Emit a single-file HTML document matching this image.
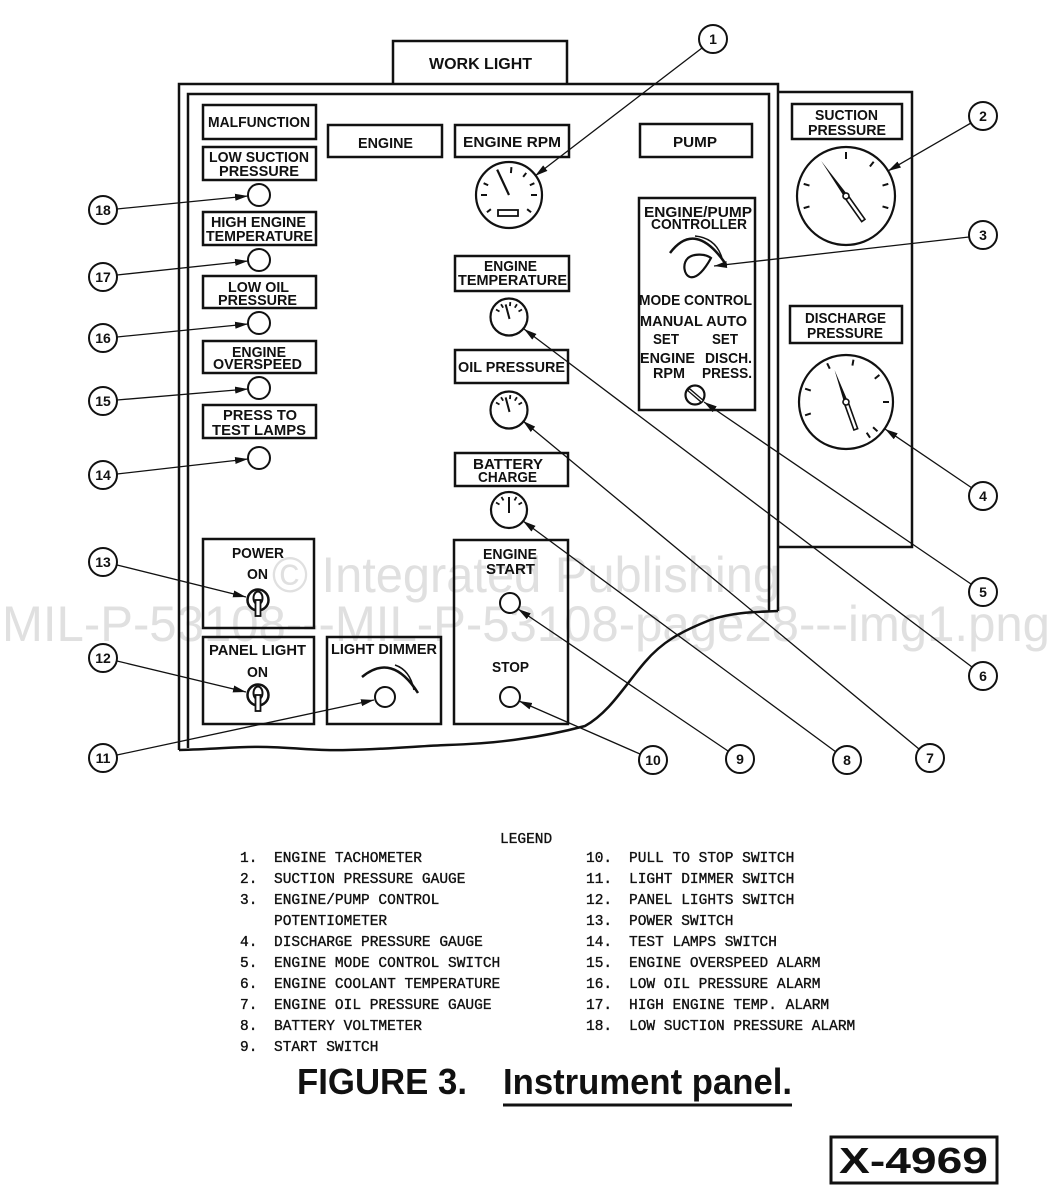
<!DOCTYPE html>
<html><head><meta charset="utf-8"><style>
html,body{margin:0;padding:0;background:#fff;}
svg{display:block;}
.b{fill:none;stroke:#111;stroke-width:2.5;}
.t{font-family:"Liberation Sans",sans-serif;font-weight:bold;font-size:15px;fill:#111;}
.big{font-family:"Liberation Sans",sans-serif;font-weight:bold;font-size:36px;fill:#111;}
.c{fill:#fff;stroke:#111;stroke-width:2;}
.cn{font-family:"Liberation Sans",sans-serif;font-weight:bold;font-size:14px;fill:#111;text-anchor:middle;}
.l{stroke:#111;stroke-width:1.3;fill:none;}
.m{font-family:"Liberation Mono",monospace;font-size:14.5px;fill:#111;stroke:#111;stroke-width:0.35;}
.w{font-family:"Liberation Sans",sans-serif;font-size:50px;fill:#e0e0e0;}
</style></head><body>
<svg width="1053" height="1201" viewBox="0 0 1053 1201" xmlns="http://www.w3.org/2000/svg">
<defs>
<marker id="a" markerWidth="14" markerHeight="8" refX="13" refY="4" orient="auto" markerUnits="userSpaceOnUse"><path d="M0,0.5 L13,4 L0,7.5 Z" fill="#111"/></marker>
</defs>
<rect width="1053" height="1201" fill="#fff"/>

<!-- watermark -->
<text class="w" x="272" y="592" textLength="508" lengthAdjust="spacingAndGlyphs">© Integrated Publishing</text>
<text class="w" x="2" y="641" textLength="1048" lengthAdjust="spacingAndGlyphs">MIL-P-53108---MIL-P-53108-page28---img1.png</text>

<!-- work light -->
<path class="b" d="M393,84 V41 H567 V84"/>
<text class="t" x="429" y="69" style="font-size:16px" textLength="103" lengthAdjust="spacingAndGlyphs">WORK LIGHT</text>

<!-- panel frame -->
<path class="b" d="M179,750 V84 H778 V611"/>
<path class="b" d="M188,748 V94 H769 V611"/>
<path class="b" d="M179,750 C220,749 240,746 267,747 C300,748 320,751 347,750 C390,749 420,746 447,745 C480,744 500,742 520,739 C550,735 570,730 585,726 C610,712 625,685 645,662 C662,642 680,632 710,620 C730,613 750,612 778,611"/>

<!-- right panel -->
<path class="b" d="M778,92 H912 V547 H778"/>

<!-- left column labels -->
<rect class="b" x="203" y="105" width="113" height="34"/>
<text class="t" x="208" y="127" textLength="102" lengthAdjust="spacingAndGlyphs">MALFUNCTION</text>
<rect class="b" x="203" y="147" width="113" height="33"/>
<text class="t" x="209" y="162" textLength="100" lengthAdjust="spacingAndGlyphs">LOW SUCTION</text>
<text class="t" x="219" y="176" textLength="80" lengthAdjust="spacingAndGlyphs">PRESSURE</text>
<rect class="b" x="203" y="212" width="113" height="33"/>
<text class="t" x="211" y="227" textLength="95" lengthAdjust="spacingAndGlyphs">HIGH ENGINE</text>
<text class="t" x="206" y="241" textLength="107" lengthAdjust="spacingAndGlyphs">TEMPERATURE</text>
<rect class="b" x="203" y="276" width="113" height="32"/>
<text class="t" x="228" y="292" textLength="61" lengthAdjust="spacingAndGlyphs">LOW OIL</text>
<text class="t" x="218" y="305" textLength="79" lengthAdjust="spacingAndGlyphs">PRESSURE</text>
<rect class="b" x="203" y="341" width="113" height="32"/>
<text class="t" x="232" y="357" textLength="54" lengthAdjust="spacingAndGlyphs">ENGINE</text>
<text class="t" x="213" y="369" textLength="89" lengthAdjust="spacingAndGlyphs">OVERSPEED</text>
<rect class="b" x="203" y="405" width="113" height="33"/>
<text class="t" x="223" y="420" textLength="74" lengthAdjust="spacingAndGlyphs">PRESS TO</text>
<text class="t" x="212" y="435" textLength="94" lengthAdjust="spacingAndGlyphs">TEST LAMPS</text>

<!-- lamps -->
<circle class="c" cx="259" cy="195" r="11"/>
<circle class="c" cx="259" cy="260" r="11"/>
<circle class="c" cx="259" cy="323" r="11"/>
<circle class="c" cx="259" cy="388" r="11"/>
<circle class="c" cx="259" cy="458" r="11"/>

<!-- power / panel light / dimmer -->
<rect class="b" x="203" y="539" width="111" height="89"/>
<text class="t" x="232" y="558" textLength="52" lengthAdjust="spacingAndGlyphs">POWER</text>
<text class="t" x="247" y="579" textLength="21" lengthAdjust="spacingAndGlyphs">ON</text>
<circle cx="258" cy="600" r="10.5" fill="#fff" stroke="#111" stroke-width="2.5"/>
<ellipse cx="258" cy="598" rx="4.5" ry="6.5" fill="none" stroke="#111" stroke-width="2"/>
<rect x="255.5" y="600" width="5" height="16" fill="#fff" stroke="#111" stroke-width="1.8"/>

<rect class="b" x="203" y="637" width="111" height="87"/>
<text class="t" x="209" y="655" textLength="97" lengthAdjust="spacingAndGlyphs">PANEL LIGHT</text>
<text class="t" x="247" y="677" textLength="21" lengthAdjust="spacingAndGlyphs">ON</text>
<circle cx="258" cy="695" r="10.5" fill="#fff" stroke="#111" stroke-width="2.5"/>
<ellipse cx="258" cy="693" rx="4.5" ry="6.5" fill="none" stroke="#111" stroke-width="2"/>
<rect x="255.5" y="695" width="5" height="16" fill="#fff" stroke="#111" stroke-width="1.8"/>

<rect class="b" x="327" y="637" width="114" height="87"/>
<text class="t" x="331" y="654" textLength="106" lengthAdjust="spacingAndGlyphs">LIGHT DIMMER</text>
<path d="M362,677 Q392,652 418,693" fill="none" stroke="#111" stroke-width="2.5"/>
<path d="M395,665 Q410,670 414,690" fill="none" stroke="#111" stroke-width="1.5"/>
<circle class="c" cx="385" cy="697" r="10"/>

<!-- center column -->
<rect class="b" x="328" y="125" width="114" height="32"/>
<text class="t" x="358" y="148" textLength="55" lengthAdjust="spacingAndGlyphs">ENGINE</text>
<rect class="b" x="455" y="125" width="114" height="32"/>
<text class="t" x="463" y="147" textLength="98" lengthAdjust="spacingAndGlyphs">ENGINE RPM</text>

<!-- tachometer -->
<circle cx="509" cy="195" r="33" fill="#fff" stroke="#111" stroke-width="2.2"/>
<g transform="translate(509,195)" stroke="#111" stroke-width="2">
<line x1="0" y1="-28" x2="0" y2="-22" transform="rotate(5)"/>
<line x1="0" y1="-28" x2="0" y2="-23" transform="rotate(38)"/>
<line x1="0" y1="-28" x2="0" y2="-23" transform="rotate(65)"/>
<line x1="0" y1="-28" x2="0" y2="-22" transform="rotate(90)"/>
<line x1="0" y1="-28" x2="0" y2="-23" transform="rotate(128)"/>
<line x1="0" y1="-28" x2="0" y2="-23" transform="rotate(-65)"/>
<line x1="0" y1="-28" x2="0" y2="-22" transform="rotate(-90)"/>
<line x1="0" y1="-28" x2="0" y2="-23" transform="rotate(-128)"/>
<line x1="0" y1="0" x2="0" y2="-28" transform="rotate(-25)" stroke-width="2.2"/>
</g>
<rect x="498" y="210" width="20" height="6" fill="#fff" stroke="#111" stroke-width="1.8"/>

<rect class="b" x="455" y="256" width="114" height="35"/>
<text class="t" x="484" y="271" textLength="53" lengthAdjust="spacingAndGlyphs">ENGINE</text>
<text class="t" x="458" y="285" textLength="109" lengthAdjust="spacingAndGlyphs">TEMPERATURE</text>

<circle cx="509" cy="317" r="18.5" fill="#fff" stroke="#111" stroke-width="2.2"/>
<g transform="translate(509,317)" stroke="#111" stroke-width="1.8">
<line x1="0" y1="-15" x2="0" y2="-11" transform="rotate(-60)"/>
<line x1="0" y1="-15" x2="0" y2="-11" transform="rotate(-32)"/>
<line x1="0" y1="-15" x2="0" y2="-11" transform="rotate(5)"/>
<line x1="0" y1="-15" x2="0" y2="-11" transform="rotate(32)"/>
<line x1="0" y1="-15" x2="0" y2="-11" transform="rotate(60)"/>
<line x1="0" y1="2" x2="0" y2="-13" transform="rotate(-15)" stroke-width="2"/>
</g>

<rect class="b" x="455" y="350" width="113" height="33"/>
<text class="t" x="458" y="372" textLength="107" lengthAdjust="spacingAndGlyphs">OIL PRESSURE</text>
<circle cx="509" cy="410" r="18.5" fill="#fff" stroke="#111" stroke-width="2.2"/>
<g transform="translate(509,410)" stroke="#111" stroke-width="1.8">
<line x1="0" y1="-15" x2="0" y2="-11" transform="rotate(-60)"/>
<line x1="0" y1="-15" x2="0" y2="-11" transform="rotate(-32)"/>
<line x1="0" y1="-15" x2="0" y2="-11" transform="rotate(5)"/>
<line x1="0" y1="-15" x2="0" y2="-11" transform="rotate(32)"/>
<line x1="0" y1="-15" x2="0" y2="-11" transform="rotate(60)"/>
<line x1="0" y1="2" x2="0" y2="-13" transform="rotate(-15)" stroke-width="2"/>
</g>

<rect class="b" x="455" y="453" width="113" height="33"/>
<text class="t" x="473" y="469" textLength="70" lengthAdjust="spacingAndGlyphs">BATTERY</text>
<text class="t" x="478" y="482" textLength="59" lengthAdjust="spacingAndGlyphs">CHARGE</text>
<circle cx="509" cy="510" r="18" fill="#fff" stroke="#111" stroke-width="2.2"/>
<g transform="translate(509,510)" stroke="#111" stroke-width="1.8">
<line x1="0" y1="-15" x2="0" y2="-11" transform="rotate(-60)"/>
<line x1="0" y1="-15" x2="0" y2="-11" transform="rotate(-30)"/>
<line x1="0" y1="-15" x2="0" y2="-11" transform="rotate(30)"/>
<line x1="0" y1="-15" x2="0" y2="-11" transform="rotate(60)"/>
<line x1="0" y1="3" x2="0" y2="-13" stroke-width="2"/>
</g>

<rect class="b" x="454" y="540" width="114" height="184"/>
<text class="t" x="483" y="559" textLength="54" lengthAdjust="spacingAndGlyphs">ENGINE</text>
<text class="t" x="486" y="574" textLength="49" lengthAdjust="spacingAndGlyphs">START</text>
<circle class="c" cx="510" cy="603" r="10"/>
<text class="t" x="492" y="672" textLength="37" lengthAdjust="spacingAndGlyphs">STOP</text>
<circle class="c" cx="510" cy="697" r="10"/>

<!-- pump section -->
<rect class="b" x="640" y="124" width="112" height="33"/>
<text class="t" x="673" y="147" textLength="44" lengthAdjust="spacingAndGlyphs">PUMP</text>
<rect class="b" x="639" y="198" width="116" height="212"/>
<text class="t" x="644" y="217" textLength="108" lengthAdjust="spacingAndGlyphs">ENGINE/PUMP</text>
<text class="t" x="651" y="229" textLength="96" lengthAdjust="spacingAndGlyphs">CONTROLLER</text>
<path d="M670,253 Q695,220 725,263" fill="none" stroke="#111" stroke-width="2.5"/>
<path d="M695,236 Q716,238 722,258" fill="none" stroke="#111" stroke-width="1.4"/>
<path d="M711,258 C706,254 694,253 688,258 C682,264 684,275 690,277 C697,279 705,269 711,258 Z" fill="#fff" stroke="#111" stroke-width="2.2"/>
<text class="t" x="639" y="305" textLength="113" lengthAdjust="spacingAndGlyphs">MODE CONTROL</text>
<text class="t" x="640" y="326" textLength="107" lengthAdjust="spacingAndGlyphs">MANUAL AUTO</text>
<text class="t" x="653" y="344" textLength="26" lengthAdjust="spacingAndGlyphs">SET</text>
<text class="t" x="712" y="344" textLength="26" lengthAdjust="spacingAndGlyphs">SET</text>
<text class="t" x="640" y="363" textLength="55" lengthAdjust="spacingAndGlyphs">ENGINE</text>
<text class="t" x="705" y="363" textLength="47" lengthAdjust="spacingAndGlyphs">DISCH.</text>
<text class="t" x="653" y="378" textLength="32" lengthAdjust="spacingAndGlyphs">RPM</text>
<text class="t" x="702" y="378" textLength="50" lengthAdjust="spacingAndGlyphs">PRESS.</text>
<circle cx="695" cy="395" r="9.5" fill="#fff" stroke="#111" stroke-width="2.2"/>
<line x1="688" y1="389" x2="703" y2="402" stroke="#111" stroke-width="4"/>
<line x1="689" y1="390" x2="702" y2="401" stroke="#fff" stroke-width="1.2"/>

<!-- suction gauge -->
<rect class="b" x="792" y="104" width="110" height="35"/>
<text class="t" x="815" y="120" textLength="63" lengthAdjust="spacingAndGlyphs">SUCTION</text>
<text class="t" x="808" y="135" textLength="78" lengthAdjust="spacingAndGlyphs">PRESSURE</text>
<circle cx="846" cy="196" r="49" fill="#fff" stroke="#111" stroke-width="2.2"/>
<g transform="translate(846,196)" stroke="#111" stroke-width="2">
<line x1="0" y1="-44" x2="0" y2="-37" transform="rotate(0)"/>
<line x1="0" y1="-44" x2="0" y2="-38" transform="rotate(39)"/>
<line x1="0" y1="-44" x2="0" y2="-38" transform="rotate(74)"/>
<line x1="0" y1="-44" x2="0" y2="-38" transform="rotate(106)"/>
<line x1="0" y1="-44" x2="0" y2="-38" transform="rotate(-106)"/>
<line x1="0" y1="-44" x2="0" y2="-38" transform="rotate(-74)"/>
</g>
<g transform="translate(846,196) rotate(54.7)">
<polygon points="0,-2 -43,0 0,2" fill="#111"/>
<rect x="2" y="-2" width="28" height="4" fill="#fff" stroke="#111" stroke-width="1.6"/>
<circle cx="0" cy="0" r="3" fill="#fff" stroke="#111" stroke-width="1.6"/>
</g>

<!-- discharge gauge -->
<rect class="b" x="790" y="306" width="112" height="37"/>
<text class="t" x="805" y="323" textLength="81" lengthAdjust="spacingAndGlyphs">DISCHARGE</text>
<text class="t" x="807" y="338" textLength="76" lengthAdjust="spacingAndGlyphs">PRESSURE</text>
<circle cx="846" cy="402" r="47" fill="#fff" stroke="#111" stroke-width="2.2"/>
<g transform="translate(846,402)" stroke="#111" stroke-width="2">
<line x1="0" y1="-43" x2="0" y2="-37" transform="rotate(-108)"/>
<line x1="0" y1="-43" x2="0" y2="-37" transform="rotate(-72)"/>
<line x1="0" y1="-43" x2="0" y2="-37" transform="rotate(-26)"/>
<line x1="0" y1="-43" x2="0" y2="-37" transform="rotate(10)"/>
<line x1="0" y1="-43" x2="0" y2="-37" transform="rotate(51)"/>
<line x1="0" y1="-43" x2="0" y2="-37" transform="rotate(90)"/>
<line x1="0" y1="-43" x2="0" y2="-37" transform="rotate(133)"/>
<line x1="0" y1="-43" x2="0" y2="-37" transform="rotate(146)"/>
</g>
<g transform="translate(846,402) rotate(70.3)">
<polygon points="0,-2 -34,0 0,2" fill="#111"/>
<rect x="2" y="-2" width="27" height="4" fill="#fff" stroke="#111" stroke-width="1.6"/>
<circle cx="0" cy="0" r="3" fill="#fff" stroke="#111" stroke-width="1.6"/>
</g>

<!-- leaders -->
<g class="l" marker-end="url(#a)">
<line x1="702" y1="48" x2="535" y2="176"/>
<line x1="971" y1="123" x2="888" y2="171"/>
<line x1="969" y1="237" x2="714" y2="266"/>
<line x1="972" y1="488" x2="885" y2="429"/>
<line x1="971" y1="584" x2="704" y2="402"/>
<line x1="972" y1="667" x2="524" y2="329"/>
<line x1="919" y1="749" x2="523" y2="421"/>
<line x1="836" y1="752" x2="523" y2="521"/>
<line x1="728" y1="751" x2="518" y2="609"/>
<line x1="640" y1="754" x2="519" y2="701"/>
<line x1="117" y1="755" x2="374" y2="700"/>
<line x1="117" y1="661" x2="246" y2="692"/>
<line x1="117" y1="565" x2="246" y2="597"/>
<line x1="117" y1="474" x2="248" y2="459"/>
<line x1="117" y1="400" x2="248" y2="389"/>
<line x1="117" y1="337" x2="248" y2="324"/>
<line x1="117" y1="275" x2="248" y2="261"/>
<line x1="117" y1="209" x2="248" y2="196"/>
</g>

<!-- callouts -->
<g>
<circle class="c" cx="713" cy="39" r="14"/><text class="cn" x="713" y="44">1</text>
<circle class="c" cx="983" cy="116" r="14"/><text class="cn" x="983" y="121">2</text>
<circle class="c" cx="983" cy="235" r="14"/><text class="cn" x="983" y="240">3</text>
<circle class="c" cx="983" cy="496" r="14"/><text class="cn" x="983" y="501">4</text>
<circle class="c" cx="983" cy="592" r="14"/><text class="cn" x="983" y="597">5</text>
<circle class="c" cx="983" cy="676" r="14"/><text class="cn" x="983" y="681">6</text>
<circle class="c" cx="930" cy="758" r="14"/><text class="cn" x="930" y="763">7</text>
<circle class="c" cx="847" cy="760" r="14"/><text class="cn" x="847" y="765">8</text>
<circle class="c" cx="740" cy="759" r="14"/><text class="cn" x="740" y="764">9</text>
<circle class="c" cx="653" cy="760" r="14"/><text class="cn" x="653" y="765">10</text>
<circle class="c" cx="103" cy="758" r="14"/><text class="cn" x="103" y="763">11</text>
<circle class="c" cx="103" cy="658" r="14"/><text class="cn" x="103" y="663">12</text>
<circle class="c" cx="103" cy="562" r="14"/><text class="cn" x="103" y="567">13</text>
<circle class="c" cx="103" cy="475" r="14"/><text class="cn" x="103" y="480">14</text>
<circle class="c" cx="103" cy="401" r="14"/><text class="cn" x="103" y="406">15</text>
<circle class="c" cx="103" cy="338" r="14"/><text class="cn" x="103" y="343">16</text>
<circle class="c" cx="103" cy="277" r="14"/><text class="cn" x="103" y="282">17</text>
<circle class="c" cx="103" cy="210" r="14"/><text class="cn" x="103" y="215">18</text>
</g>

<!-- legend -->
<text class="m" x="500" y="843">LEGEND</text>
<g class="m">
<text x="240" y="862">1.</text><text x="274" y="862">ENGINE TACHOMETER</text>
<text x="240" y="883">2.</text><text x="274" y="883">SUCTION PRESSURE GAUGE</text>
<text x="240" y="904">3.</text><text x="274" y="904">ENGINE/PUMP CONTROL</text>
<text x="274" y="925">POTENTIOMETER</text>
<text x="240" y="946">4.</text><text x="274" y="946">DISCHARGE PRESSURE GAUGE</text>
<text x="240" y="967">5.</text><text x="274" y="967">ENGINE MODE CONTROL SWITCH</text>
<text x="240" y="988">6.</text><text x="274" y="988">ENGINE COOLANT TEMPERATURE</text>
<text x="240" y="1009">7.</text><text x="274" y="1009">ENGINE OIL PRESSURE GAUGE</text>
<text x="240" y="1030">8.</text><text x="274" y="1030">BATTERY VOLTMETER</text>
<text x="240" y="1051">9.</text><text x="274" y="1051">START SWITCH</text>
<text x="586" y="862">10.</text><text x="629" y="862">PULL TO STOP SWITCH</text>
<text x="586" y="883">11.</text><text x="629" y="883">LIGHT DIMMER SWITCH</text>
<text x="586" y="904">12.</text><text x="629" y="904">PANEL LIGHTS SWITCH</text>
<text x="586" y="925">13.</text><text x="629" y="925">POWER SWITCH</text>
<text x="586" y="946">14.</text><text x="629" y="946">TEST LAMPS SWITCH</text>
<text x="586" y="967">15.</text><text x="629" y="967">ENGINE OVERSPEED ALARM</text>
<text x="586" y="988">16.</text><text x="629" y="988">LOW OIL PRESSURE ALARM</text>
<text x="586" y="1009">17.</text><text x="629" y="1009">HIGH ENGINE TEMP. ALARM</text>
<text x="586" y="1030">18.</text><text x="629" y="1030">LOW SUCTION PRESSURE ALARM</text>
</g>

<!-- caption -->
<text class="big" x="297" y="1094" textLength="170" lengthAdjust="spacingAndGlyphs">FIGURE 3.</text>
<text class="big" x="503" y="1094" textLength="289" lengthAdjust="spacingAndGlyphs">Instrument panel.</text>
<line x1="503" y1="1105" x2="792" y2="1105" stroke="#111" stroke-width="3"/>

<rect x="831" y="1137" width="166" height="46" fill="none" stroke="#111" stroke-width="3"/>
<text class="big" x="839" y="1173" textLength="149" lengthAdjust="spacingAndGlyphs">X-4969</text>
</svg>
</body></html>
